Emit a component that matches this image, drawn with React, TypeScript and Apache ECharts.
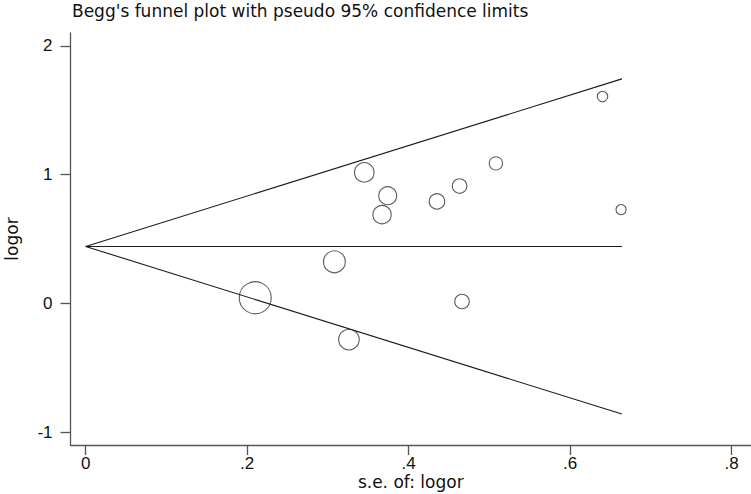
import React, { useEffect, useRef } from "react";
import * as echarts from "echarts";

// Study data: standard error and log odds ratio
const studySe = [0.64, 0.345, 0.508, 0.374, 0.463, 0.435, 0.367, 0.663, 0.308, 0.21, 0.466, 0.326];
const studyLogOr = [1.607, 1.018, 1.088, 0.837, 0.912, 0.793, 0.69, 0.729, 0.324, 0.045, 0.016, -0.28];

// Funnel (pseudo 95% confidence limits) end points
const funnelSe = [0, 0.664];
const upperLimit = [0.443, 1.744];
const centerLine = [0.443, 0.443];
const lowerLimit = [0.443, -0.858];

// Tick values
const xTicks = [0, 0.2, 0.4, 0.6, 0.8];
const yTicks = [-1, 0, 1, 2];

const FONT = "'Liberation Sans', Arial, sans-serif";
const WIDE = "'DejaVu Sans', 'Liberation Sans', sans-serif";
const INK = "#1a1a1a";

export default function App() {
  const ref = useRef<HTMLDivElement>(null);

  useEffect(() => {
    if (!ref.current) return;
    const chart = echarts.init(ref.current, undefined, { renderer: "svg" });

    const pts = studySe.map((s, i) => [s, studyLogOr[i]]);
    const mk = (ys: number[]) => funnelSe.map((s, i) => [s, ys[i]]);
    const lineSeries = (name: string, ys: number[]) => ({
      name,
      type: "line",
      data: mk(ys),
      symbol: "none",
      lineStyle: { color: INK, width: 1.1 },
      silent: true,
    });

    chart.setOption({
      animation: false,
      backgroundColor: "#fff",
      graphic: [
        {
          type: "text",
          left: 72,
          top: 2,
          style: {
            text: "Begg's funnel plot with pseudo 95% confidence limits",
            font: `17px ${WIDE}`,
            fill: "#111",
          },
        },
      ],
      grid: {
        left: 70.5,
        top: 33,
        right: 0,
        bottom: 49,
        containLabel: false,
        outerBoundsMode: "none",
      },
      xAxis: {
        type: "value",
        min: -0.0188,
        max: 0.8239,
        name: "s.e. of: logor",
        nameLocation: "middle",
        nameGap: 28,
        nameMoveOverlap: false,
        nameTextStyle: { color: "#111", fontSize: 17, fontFamily: WIDE },
        splitLine: { show: false },
        axisLine: { show: true, onZero: false, lineStyle: { color: "#555", width: 1.3 } },
        axisTick: {
          show: true,
          length: 10,
          customValues: xTicks,
          lineStyle: { color: "#555", width: 1.3 },
        },
        axisLabel: {
          customValues: xTicks,
          margin: 10,
          color: "#111",
          fontSize: 17,
          fontFamily: FONT,
          formatter: (v: number) => (v === 0 ? "0" : String(v).replace(/^0/, "")),
        },
      },
      yAxis: {
        type: "value",
        min: -1.098,
        max: 2.1,
        name: "logor",
        nameLocation: "middle",
        nameGap: 50,
        nameMoveOverlap: false,
        nameTextStyle: { color: "#111", fontSize: 17, fontFamily: WIDE },
        splitLine: { show: false },
        axisLine: { show: true, onZero: false, lineStyle: { color: "#555", width: 1.3 } },
        axisTick: {
          show: true,
          length: 10,
          customValues: yTicks,
          lineStyle: { color: "#555", width: 1.3 },
        },
        axisLabel: {
          customValues: yTicks,
          margin: 18,
          color: "#111",
          fontSize: 17,
          fontFamily: FONT,
          formatter: (v: number) => String(v),
        },
      },
      series: [
        lineSeries("upper", upperLimit),
        lineSeries("center", centerLine),
        lineSeries("lower", lowerLimit),
        {
          name: "studies",
          type: "scatter",
          data: pts,
          symbol: "circle",
          symbolSize: (v: number[]) => 6.72 / v[0],
          itemStyle: { color: "rgba(0,0,0,0)", borderColor: "#333", borderWidth: 1.1 },
        },
      ],
    });

    return () => chart.dispose();
  }, []);

  return (
    <div
      ref={ref}
      style={{ position: "fixed", left: 0, top: 0, width: 751, height: 494 }}
    />
  );
}
